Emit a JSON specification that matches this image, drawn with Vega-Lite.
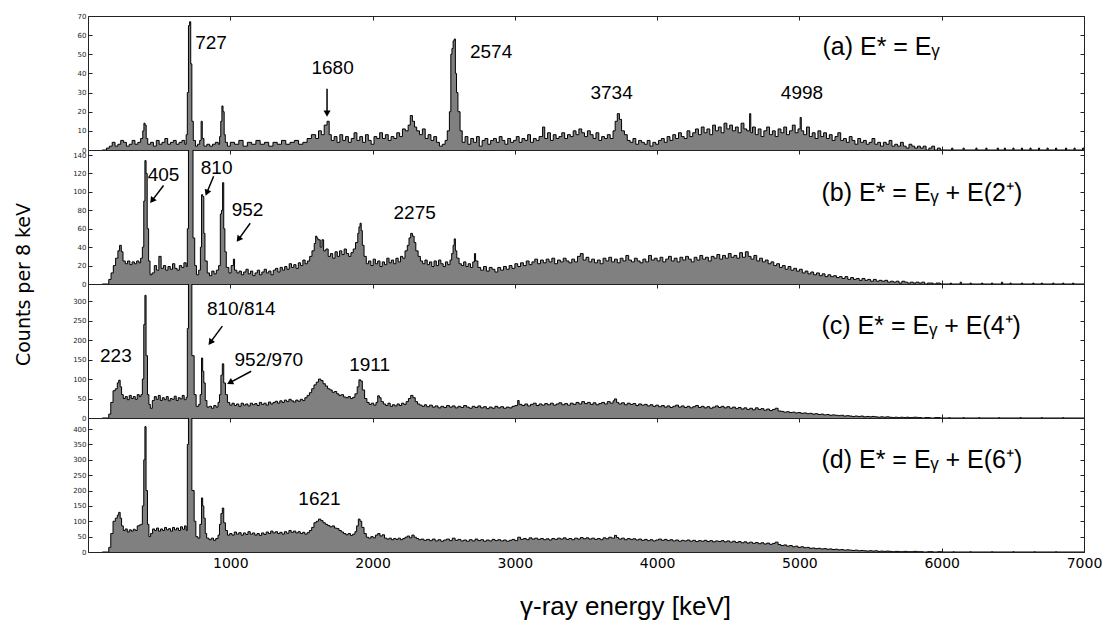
{
"$schema": "https://vega.github.io/schema/vega-lite/v6.json",
"padding": {"left": 13, "top": 11, "right": 0, "bottom": 0},
"background": "white",
"spacing": 0,
"bounds": "flush",
"datasets": {
"a": [{"e":100,"c":0},{"e":130,"c":1},{"e":150,"c":2},{"e":170,"c":4},{"e":190,"c":2},{"e":210,"c":3},{"e":230,"c":5},{"e":250,"c":4},{"e":270,"c":2},{"e":290,"c":3},{"e":310,"c":5},{"e":330,"c":3},{"e":350,"c":4},{"e":370,"c":6},{"e":385,"c":10},{"e":393,"c":14},{"e":401,"c":13},{"e":409,"c":6},{"e":420,"c":3},{"e":440,"c":4},{"e":460,"c":2},{"e":480,"c":5},{"e":500,"c":3},{"e":520,"c":4},{"e":540,"c":6},{"e":560,"c":3},{"e":580,"c":4},{"e":600,"c":5},{"e":620,"c":3},{"e":640,"c":4},{"e":660,"c":5},{"e":680,"c":3},{"e":690,"c":8},{"e":698,"c":30},{"e":706,"c":65},{"e":714,"c":67},{"e":722,"c":45},{"e":730,"c":15},{"e":740,"c":5},{"e":755,"c":2},{"e":770,"c":3},{"e":785,"c":5},{"e":795,"c":15},{"e":803,"c":6},{"e":815,"c":2},{"e":835,"c":3},{"e":855,"c":2},{"e":875,"c":3},{"e":895,"c":4},{"e":915,"c":3},{"e":925,"c":7},{"e":933,"c":15},{"e":941,"c":23},{"e":949,"c":20},{"e":957,"c":8},{"e":965,"c":4},{"e":980,"c":2},{"e":1000,"c":4},{"e":1030,"c":3},{"e":1060,"c":5},{"e":1090,"c":2},{"e":1120,"c":4},{"e":1150,"c":3},{"e":1180,"c":5},{"e":1210,"c":3},{"e":1240,"c":4},{"e":1270,"c":2},{"e":1300,"c":4},{"e":1330,"c":3},{"e":1360,"c":5},{"e":1390,"c":3},{"e":1420,"c":4},{"e":1450,"c":5},{"e":1480,"c":3},{"e":1510,"c":4},{"e":1540,"c":6},{"e":1570,"c":8},{"e":1600,"c":6},{"e":1620,"c":10},{"e":1640,"c":8},{"e":1660,"c":13},{"e":1680,"c":15},{"e":1695,"c":8},{"e":1710,"c":5},{"e":1730,"c":7},{"e":1750,"c":4},{"e":1770,"c":8},{"e":1790,"c":5},{"e":1810,"c":7},{"e":1830,"c":4},{"e":1850,"c":6},{"e":1870,"c":9},{"e":1890,"c":5},{"e":1910,"c":7},{"e":1930,"c":4},{"e":1950,"c":8},{"e":1970,"c":5},{"e":1990,"c":3},{"e":2010,"c":7},{"e":2030,"c":6},{"e":2050,"c":9},{"e":2070,"c":6},{"e":2090,"c":8},{"e":2110,"c":5},{"e":2130,"c":7},{"e":2150,"c":6},{"e":2170,"c":9},{"e":2190,"c":7},{"e":2210,"c":11},{"e":2230,"c":10},{"e":2250,"c":13},{"e":2265,"c":18},{"e":2280,"c":15},{"e":2295,"c":12},{"e":2310,"c":10},{"e":2330,"c":8},{"e":2350,"c":11},{"e":2370,"c":6},{"e":2390,"c":8},{"e":2410,"c":5},{"e":2430,"c":7},{"e":2450,"c":4},{"e":2470,"c":2},{"e":2490,"c":3},{"e":2510,"c":5},{"e":2525,"c":10},{"e":2540,"c":20},{"e":2550,"c":50},{"e":2558,"c":53},{"e":2566,"c":57},{"e":2574,"c":58},{"e":2582,"c":40},{"e":2590,"c":30},{"e":2600,"c":20},{"e":2615,"c":10},{"e":2630,"c":4},{"e":2650,"c":7},{"e":2670,"c":3},{"e":2690,"c":6},{"e":2710,"c":4},{"e":2730,"c":7},{"e":2750,"c":2},{"e":2770,"c":5},{"e":2790,"c":6},{"e":2810,"c":3},{"e":2830,"c":5},{"e":2850,"c":6},{"e":2870,"c":4},{"e":2890,"c":7},{"e":2910,"c":5},{"e":2930,"c":3},{"e":2950,"c":6},{"e":2970,"c":4},{"e":2990,"c":5},{"e":3010,"c":7},{"e":3030,"c":4},{"e":3050,"c":6},{"e":3070,"c":5},{"e":3090,"c":8},{"e":3110,"c":4},{"e":3130,"c":6},{"e":3150,"c":5},{"e":3170,"c":7},{"e":3195,"c":12},{"e":3210,"c":6},{"e":3230,"c":9},{"e":3250,"c":5},{"e":3270,"c":8},{"e":3290,"c":6},{"e":3310,"c":7},{"e":3330,"c":9},{"e":3350,"c":6},{"e":3370,"c":8},{"e":3390,"c":7},{"e":3410,"c":10},{"e":3430,"c":8},{"e":3450,"c":11},{"e":3470,"c":9},{"e":3490,"c":7},{"e":3510,"c":10},{"e":3530,"c":8},{"e":3550,"c":6},{"e":3570,"c":9},{"e":3590,"c":5},{"e":3610,"c":7},{"e":3630,"c":6},{"e":3650,"c":8},{"e":3670,"c":6},{"e":3690,"c":10},{"e":3705,"c":15},{"e":3720,"c":19},{"e":3735,"c":16},{"e":3750,"c":10},{"e":3770,"c":8},{"e":3790,"c":5},{"e":3810,"c":4},{"e":3830,"c":6},{"e":3850,"c":3},{"e":3870,"c":5},{"e":3890,"c":4},{"e":3910,"c":3},{"e":3930,"c":5},{"e":3950,"c":2},{"e":3970,"c":4},{"e":3990,"c":3},{"e":4010,"c":5},{"e":4030,"c":6},{"e":4050,"c":4},{"e":4070,"c":7},{"e":4090,"c":5},{"e":4110,"c":8},{"e":4130,"c":6},{"e":4150,"c":9},{"e":4170,"c":7},{"e":4190,"c":6},{"e":4210,"c":10},{"e":4230,"c":7},{"e":4250,"c":9},{"e":4270,"c":11},{"e":4290,"c":8},{"e":4310,"c":12},{"e":4330,"c":9},{"e":4350,"c":11},{"e":4370,"c":8},{"e":4390,"c":13},{"e":4410,"c":10},{"e":4430,"c":12},{"e":4450,"c":9},{"e":4470,"c":14},{"e":4490,"c":11},{"e":4510,"c":13},{"e":4530,"c":10},{"e":4550,"c":12},{"e":4570,"c":9},{"e":4590,"c":14},{"e":4610,"c":11},{"e":4630,"c":10},{"e":4650,"c":19},{"e":4658,"c":9},{"e":4670,"c":12},{"e":4690,"c":8},{"e":4710,"c":11},{"e":4730,"c":7},{"e":4750,"c":10},{"e":4770,"c":12},{"e":4790,"c":8},{"e":4810,"c":10},{"e":4830,"c":7},{"e":4850,"c":11},{"e":4870,"c":9},{"e":4890,"c":12},{"e":4910,"c":8},{"e":4930,"c":10},{"e":4950,"c":13},{"e":4970,"c":9},{"e":4990,"c":11},{"e":5005,"c":17},{"e":5013,"c":10},{"e":5030,"c":8},{"e":5050,"c":12},{"e":5070,"c":7},{"e":5090,"c":9},{"e":5110,"c":6},{"e":5130,"c":10},{"e":5150,"c":7},{"e":5170,"c":9},{"e":5190,"c":6},{"e":5210,"c":8},{"e":5230,"c":5},{"e":5250,"c":7},{"e":5270,"c":9},{"e":5290,"c":5},{"e":5310,"c":6},{"e":5330,"c":4},{"e":5350,"c":7},{"e":5370,"c":5},{"e":5390,"c":3},{"e":5410,"c":6},{"e":5430,"c":4},{"e":5450,"c":5},{"e":5470,"c":3},{"e":5490,"c":4},{"e":5510,"c":6},{"e":5530,"c":3},{"e":5550,"c":4},{"e":5570,"c":2},{"e":5590,"c":4},{"e":5610,"c":3},{"e":5630,"c":5},{"e":5650,"c":2},{"e":5670,"c":3},{"e":5690,"c":2},{"e":5710,"c":4},{"e":5730,"c":2},{"e":5750,"c":1},{"e":5770,"c":3},{"e":5790,"c":2},{"e":5810,"c":1},{"e":5830,"c":2},{"e":5850,"c":1},{"e":5870,"c":2},{"e":5890,"c":0},{"e":5910,"c":1},{"e":5930,"c":2},{"e":5950,"c":0},{"e":5970,"c":1},{"e":5990,"c":0},{"e":6070,"c":1},{"e":6078,"c":0},{"e":6150,"c":1},{"e":6158,"c":0},{"e":6240,"c":1},{"e":6248,"c":0},{"e":6310,"c":1},{"e":6318,"c":0},{"e":6390,"c":1},{"e":6398,"c":0},{"e":6440,"c":1},{"e":6448,"c":0},{"e":6500,"c":1},{"e":6508,"c":0},{"e":6560,"c":1},{"e":6568,"c":0},{"e":6620,"c":1},{"e":6628,"c":0},{"e":6680,"c":1},{"e":6688,"c":0},{"e":6740,"c":1},{"e":6748,"c":0},{"e":6800,"c":1},{"e":6808,"c":0},{"e":6870,"c":1},{"e":6878,"c":0},{"e":6930,"c":1},{"e":6938,"c":0},{"e":6990,"c":1},{"e":7000,"c":0}],
"b": [{"e":100,"c":0},{"e":138,"c":0},{"e":146,"c":5},{"e":162,"c":12},{"e":178,"c":20},{"e":194,"c":28},{"e":210,"c":36},{"e":222,"c":42},{"e":234,"c":35},{"e":246,"c":25},{"e":262,"c":22},{"e":278,"c":25},{"e":294,"c":21},{"e":310,"c":24},{"e":326,"c":22},{"e":342,"c":25},{"e":358,"c":23},{"e":370,"c":28},{"e":382,"c":40},{"e":392,"c":90},{"e":400,"c":134},{"e":408,"c":120},{"e":416,"c":60},{"e":426,"c":25},{"e":436,"c":10},{"e":450,"c":12},{"e":466,"c":20},{"e":482,"c":15},{"e":498,"c":30},{"e":514,"c":17},{"e":530,"c":20},{"e":546,"c":15},{"e":562,"c":19},{"e":578,"c":16},{"e":594,"c":22},{"e":610,"c":17},{"e":626,"c":15},{"e":642,"c":20},{"e":658,"c":18},{"e":674,"c":23},{"e":690,"c":19},{"e":698,"c":60},{"e":706,"c":400},{"e":738,"c":50},{"e":750,"c":20},{"e":762,"c":10},{"e":778,"c":15},{"e":790,"c":40},{"e":798,"c":97},{"e":806,"c":95},{"e":814,"c":55},{"e":822,"c":25},{"e":838,"c":12},{"e":854,"c":9},{"e":870,"c":14},{"e":886,"c":11},{"e":902,"c":15},{"e":918,"c":20},{"e":930,"c":76},{"e":938,"c":80},{"e":946,"c":110},{"e":954,"c":60},{"e":962,"c":35},{"e":972,"c":18},{"e":990,"c":12},{"e":1006,"c":20},{"e":1022,"c":27},{"e":1030,"c":15},{"e":1046,"c":12},{"e":1062,"c":14},{"e":1078,"c":10},{"e":1094,"c":13},{"e":1110,"c":16},{"e":1126,"c":11},{"e":1142,"c":14},{"e":1158,"c":9},{"e":1174,"c":12},{"e":1190,"c":15},{"e":1206,"c":10},{"e":1222,"c":13},{"e":1238,"c":16},{"e":1254,"c":12},{"e":1270,"c":14},{"e":1286,"c":10},{"e":1302,"c":15},{"e":1318,"c":17},{"e":1334,"c":13},{"e":1350,"c":18},{"e":1366,"c":15},{"e":1382,"c":19},{"e":1398,"c":16},{"e":1414,"c":22},{"e":1430,"c":18},{"e":1446,"c":21},{"e":1462,"c":17},{"e":1478,"c":23},{"e":1494,"c":20},{"e":1510,"c":26},{"e":1526,"c":22},{"e":1542,"c":25},{"e":1558,"c":30},{"e":1574,"c":36},{"e":1590,"c":44},{"e":1600,"c":52},{"e":1608,"c":50},{"e":1616,"c":48},{"e":1632,"c":40},{"e":1644,"c":48},{"e":1656,"c":36},{"e":1672,"c":38},{"e":1688,"c":30},{"e":1704,"c":33},{"e":1720,"c":28},{"e":1736,"c":35},{"e":1752,"c":30},{"e":1768,"c":36},{"e":1784,"c":32},{"e":1800,"c":38},{"e":1816,"c":33},{"e":1832,"c":30},{"e":1848,"c":34},{"e":1864,"c":38},{"e":1880,"c":45},{"e":1896,"c":55},{"e":1904,"c":62},{"e":1912,"c":66},{"e":1920,"c":58},{"e":1928,"c":42},{"e":1940,"c":30},{"e":1956,"c":22},{"e":1972,"c":25},{"e":1988,"c":20},{"e":2004,"c":27},{"e":2020,"c":22},{"e":2036,"c":25},{"e":2052,"c":19},{"e":2068,"c":24},{"e":2084,"c":21},{"e":2100,"c":28},{"e":2116,"c":23},{"e":2132,"c":26},{"e":2148,"c":22},{"e":2164,"c":28},{"e":2180,"c":24},{"e":2196,"c":30},{"e":2212,"c":28},{"e":2228,"c":36},{"e":2244,"c":42},{"e":2256,"c":50},{"e":2268,"c":55},{"e":2280,"c":52},{"e":2292,"c":45},{"e":2304,"c":36},{"e":2320,"c":30},{"e":2336,"c":25},{"e":2352,"c":22},{"e":2368,"c":26},{"e":2384,"c":21},{"e":2400,"c":24},{"e":2416,"c":19},{"e":2432,"c":25},{"e":2448,"c":20},{"e":2464,"c":26},{"e":2480,"c":22},{"e":2496,"c":19},{"e":2512,"c":24},{"e":2528,"c":21},{"e":2544,"c":26},{"e":2556,"c":33},{"e":2566,"c":42},{"e":2574,"c":49},{"e":2582,"c":36},{"e":2592,"c":28},{"e":2608,"c":22},{"e":2624,"c":20},{"e":2640,"c":24},{"e":2656,"c":19},{"e":2672,"c":22},{"e":2688,"c":18},{"e":2704,"c":24},{"e":2716,"c":33},{"e":2724,"c":25},{"e":2740,"c":18},{"e":2760,"c":15},{"e":2780,"c":19},{"e":2800,"c":14},{"e":2820,"c":18},{"e":2840,"c":16},{"e":2860,"c":13},{"e":2880,"c":18},{"e":2900,"c":15},{"e":2920,"c":19},{"e":2940,"c":16},{"e":2960,"c":20},{"e":2980,"c":17},{"e":3000,"c":22},{"e":3020,"c":19},{"e":3040,"c":23},{"e":3060,"c":20},{"e":3080,"c":25},{"e":3100,"c":21},{"e":3120,"c":24},{"e":3140,"c":27},{"e":3160,"c":22},{"e":3180,"c":26},{"e":3200,"c":23},{"e":3220,"c":27},{"e":3240,"c":24},{"e":3260,"c":28},{"e":3280,"c":22},{"e":3300,"c":26},{"e":3320,"c":24},{"e":3340,"c":28},{"e":3360,"c":25},{"e":3380,"c":23},{"e":3400,"c":27},{"e":3420,"c":24},{"e":3440,"c":30},{"e":3460,"c":33},{"e":3480,"c":26},{"e":3500,"c":29},{"e":3520,"c":24},{"e":3540,"c":27},{"e":3560,"c":23},{"e":3580,"c":26},{"e":3600,"c":22},{"e":3620,"c":28},{"e":3640,"c":25},{"e":3660,"c":29},{"e":3680,"c":24},{"e":3700,"c":27},{"e":3720,"c":23},{"e":3740,"c":28},{"e":3760,"c":25},{"e":3780,"c":31},{"e":3800,"c":26},{"e":3820,"c":24},{"e":3840,"c":28},{"e":3860,"c":25},{"e":3880,"c":23},{"e":3900,"c":27},{"e":3920,"c":24},{"e":3940,"c":31},{"e":3960,"c":26},{"e":3980,"c":28},{"e":4000,"c":25},{"e":4020,"c":29},{"e":4040,"c":24},{"e":4060,"c":27},{"e":4080,"c":30},{"e":4100,"c":25},{"e":4120,"c":28},{"e":4140,"c":24},{"e":4160,"c":29},{"e":4180,"c":26},{"e":4200,"c":30},{"e":4220,"c":27},{"e":4240,"c":24},{"e":4260,"c":29},{"e":4280,"c":26},{"e":4300,"c":31},{"e":4320,"c":27},{"e":4340,"c":29},{"e":4360,"c":25},{"e":4380,"c":30},{"e":4400,"c":28},{"e":4420,"c":32},{"e":4440,"c":27},{"e":4460,"c":31},{"e":4480,"c":28},{"e":4500,"c":33},{"e":4520,"c":29},{"e":4540,"c":31},{"e":4560,"c":28},{"e":4580,"c":34},{"e":4600,"c":29},{"e":4620,"c":35},{"e":4640,"c":30},{"e":4660,"c":27},{"e":4680,"c":31},{"e":4700,"c":25},{"e":4720,"c":28},{"e":4740,"c":24},{"e":4760,"c":26},{"e":4780,"c":22},{"e":4800,"c":24},{"e":4820,"c":20},{"e":4840,"c":22},{"e":4860,"c":18},{"e":4880,"c":20},{"e":4900,"c":16},{"e":4920,"c":19},{"e":4940,"c":15},{"e":4960,"c":17},{"e":4980,"c":14},{"e":5000,"c":16},{"e":5020,"c":12},{"e":5040,"c":14},{"e":5060,"c":11},{"e":5080,"c":13},{"e":5100,"c":10},{"e":5120,"c":12},{"e":5140,"c":9},{"e":5160,"c":11},{"e":5180,"c":8},{"e":5200,"c":10},{"e":5220,"c":8},{"e":5240,"c":9},{"e":5260,"c":7},{"e":5280,"c":8},{"e":5300,"c":6},{"e":5320,"c":8},{"e":5340,"c":5},{"e":5360,"c":7},{"e":5380,"c":5},{"e":5400,"c":6},{"e":5420,"c":4},{"e":5440,"c":6},{"e":5460,"c":4},{"e":5480,"c":5},{"e":5500,"c":3},{"e":5520,"c":5},{"e":5540,"c":3},{"e":5560,"c":4},{"e":5580,"c":3},{"e":5600,"c":4},{"e":5620,"c":2},{"e":5640,"c":3},{"e":5660,"c":2},{"e":5680,"c":3},{"e":5700,"c":1},{"e":5720,"c":3},{"e":5740,"c":2},{"e":5760,"c":1},{"e":5780,"c":2},{"e":5800,"c":1},{"e":5820,"c":2},{"e":5840,"c":1},{"e":5860,"c":2},{"e":5880,"c":0},{"e":5900,"c":1},{"e":5940,"c":0},{"e":5960,"c":1},{"e":5990,"c":0},{"e":6060,"c":1},{"e":6068,"c":0},{"e":6130,"c":2},{"e":6138,"c":0},{"e":6200,"c":1},{"e":6208,"c":0},{"e":6280,"c":1},{"e":6288,"c":0},{"e":6350,"c":1},{"e":6358,"c":0},{"e":6420,"c":2},{"e":6428,"c":0},{"e":6480,"c":1},{"e":6488,"c":0},{"e":6560,"c":1},{"e":6568,"c":0},{"e":6640,"c":1},{"e":6648,"c":0},{"e":6700,"c":1},{"e":6708,"c":0},{"e":6780,"c":1},{"e":6788,"c":0},{"e":6850,"c":1},{"e":6858,"c":0},{"e":6920,"c":1},{"e":6928,"c":0},{"e":7000,"c":0}],
"c": [{"e":100,"c":0},{"e":138,"c":0},{"e":146,"c":10},{"e":160,"c":40},{"e":176,"c":70},{"e":192,"c":75},{"e":206,"c":90},{"e":216,"c":97},{"e":226,"c":80},{"e":236,"c":60},{"e":248,"c":50},{"e":262,"c":55},{"e":276,"c":47},{"e":290,"c":58},{"e":304,"c":50},{"e":318,"c":55},{"e":332,"c":48},{"e":346,"c":60},{"e":360,"c":55},{"e":372,"c":60},{"e":382,"c":100},{"e":392,"c":240},{"e":400,"c":315},{"e":408,"c":160},{"e":418,"c":60},{"e":428,"c":35},{"e":438,"c":25},{"e":452,"c":45},{"e":466,"c":55},{"e":480,"c":48},{"e":494,"c":58},{"e":508,"c":45},{"e":522,"c":52},{"e":536,"c":47},{"e":550,"c":55},{"e":564,"c":44},{"e":578,"c":50},{"e":592,"c":48},{"e":606,"c":56},{"e":620,"c":45},{"e":634,"c":52},{"e":648,"c":49},{"e":662,"c":58},{"e":676,"c":47},{"e":690,"c":53},{"e":698,"c":230},{"e":706,"c":900},{"e":730,"c":160},{"e":746,"c":60},{"e":760,"c":30},{"e":778,"c":35},{"e":788,"c":60},{"e":798,"c":154},{"e":806,"c":120},{"e":814,"c":90},{"e":824,"c":45},{"e":836,"c":28},{"e":852,"c":30},{"e":868,"c":25},{"e":884,"c":32},{"e":900,"c":28},{"e":914,"c":40},{"e":924,"c":60},{"e":934,"c":110},{"e":944,"c":139},{"e":954,"c":90},{"e":966,"c":60},{"e":980,"c":40},{"e":996,"c":33},{"e":1012,"c":38},{"e":1028,"c":32},{"e":1044,"c":36},{"e":1060,"c":30},{"e":1076,"c":38},{"e":1092,"c":33},{"e":1108,"c":36},{"e":1124,"c":31},{"e":1140,"c":38},{"e":1156,"c":34},{"e":1172,"c":37},{"e":1188,"c":32},{"e":1204,"c":40},{"e":1220,"c":35},{"e":1236,"c":38},{"e":1252,"c":33},{"e":1268,"c":41},{"e":1284,"c":36},{"e":1300,"c":40},{"e":1316,"c":43},{"e":1332,"c":38},{"e":1348,"c":44},{"e":1364,"c":40},{"e":1380,"c":46},{"e":1396,"c":42},{"e":1412,"c":48},{"e":1428,"c":44},{"e":1444,"c":41},{"e":1460,"c":46},{"e":1476,"c":43},{"e":1492,"c":48},{"e":1508,"c":45},{"e":1524,"c":52},{"e":1540,"c":58},{"e":1556,"c":65},{"e":1572,"c":75},{"e":1588,"c":85},{"e":1604,"c":92},{"e":1620,"c":100},{"e":1636,"c":96},{"e":1652,"c":88},{"e":1668,"c":82},{"e":1684,"c":75},{"e":1700,"c":72},{"e":1716,"c":66},{"e":1732,"c":68},{"e":1748,"c":62},{"e":1764,"c":58},{"e":1780,"c":60},{"e":1796,"c":54},{"e":1812,"c":52},{"e":1828,"c":55},{"e":1844,"c":50},{"e":1860,"c":53},{"e":1876,"c":62},{"e":1892,"c":80},{"e":1904,"c":98},{"e":1916,"c":95},{"e":1928,"c":72},{"e":1944,"c":50},{"e":1960,"c":40},{"e":1976,"c":35},{"e":1992,"c":38},{"e":2008,"c":33},{"e":2024,"c":40},{"e":2036,"c":57},{"e":2048,"c":52},{"e":2060,"c":42},{"e":2076,"c":36},{"e":2092,"c":32},{"e":2108,"c":38},{"e":2124,"c":30},{"e":2140,"c":34},{"e":2156,"c":31},{"e":2172,"c":36},{"e":2188,"c":32},{"e":2204,"c":38},{"e":2220,"c":35},{"e":2236,"c":42},{"e":2252,"c":50},{"e":2268,"c":58},{"e":2284,"c":52},{"e":2300,"c":42},{"e":2316,"c":36},{"e":2332,"c":33},{"e":2348,"c":30},{"e":2364,"c":34},{"e":2380,"c":29},{"e":2400,"c":33},{"e":2420,"c":28},{"e":2440,"c":31},{"e":2460,"c":26},{"e":2480,"c":30},{"e":2500,"c":27},{"e":2520,"c":32},{"e":2540,"c":28},{"e":2560,"c":31},{"e":2580,"c":26},{"e":2600,"c":30},{"e":2620,"c":27},{"e":2640,"c":32},{"e":2660,"c":28},{"e":2680,"c":25},{"e":2700,"c":30},{"e":2720,"c":27},{"e":2740,"c":31},{"e":2760,"c":26},{"e":2780,"c":29},{"e":2800,"c":24},{"e":2820,"c":28},{"e":2840,"c":25},{"e":2860,"c":30},{"e":2880,"c":26},{"e":2900,"c":29},{"e":2920,"c":25},{"e":2940,"c":28},{"e":2960,"c":26},{"e":2980,"c":30},{"e":3000,"c":32},{"e":3020,"c":45},{"e":3030,"c":35},{"e":3050,"c":32},{"e":3070,"c":36},{"e":3090,"c":31},{"e":3110,"c":35},{"e":3130,"c":38},{"e":3150,"c":32},{"e":3170,"c":36},{"e":3190,"c":33},{"e":3210,"c":37},{"e":3230,"c":34},{"e":3250,"c":38},{"e":3270,"c":33},{"e":3290,"c":36},{"e":3310,"c":39},{"e":3330,"c":34},{"e":3350,"c":37},{"e":3370,"c":33},{"e":3390,"c":38},{"e":3410,"c":35},{"e":3430,"c":40},{"e":3450,"c":36},{"e":3470,"c":42},{"e":3490,"c":37},{"e":3510,"c":40},{"e":3530,"c":35},{"e":3550,"c":39},{"e":3570,"c":34},{"e":3590,"c":37},{"e":3610,"c":40},{"e":3630,"c":36},{"e":3650,"c":42},{"e":3670,"c":38},{"e":3690,"c":44},{"e":3700,"c":49},{"e":3715,"c":40},{"e":3730,"c":36},{"e":3750,"c":39},{"e":3770,"c":34},{"e":3790,"c":38},{"e":3810,"c":35},{"e":3830,"c":37},{"e":3850,"c":32},{"e":3870,"c":36},{"e":3890,"c":33},{"e":3910,"c":35},{"e":3930,"c":31},{"e":3950,"c":34},{"e":3970,"c":30},{"e":3990,"c":33},{"e":4010,"c":29},{"e":4030,"c":32},{"e":4050,"c":28},{"e":4070,"c":31},{"e":4090,"c":27},{"e":4110,"c":30},{"e":4130,"c":33},{"e":4150,"c":28},{"e":4170,"c":31},{"e":4190,"c":27},{"e":4210,"c":30},{"e":4230,"c":26},{"e":4250,"c":29},{"e":4270,"c":32},{"e":4290,"c":27},{"e":4310,"c":30},{"e":4330,"c":26},{"e":4350,"c":29},{"e":4370,"c":25},{"e":4390,"c":28},{"e":4410,"c":31},{"e":4430,"c":27},{"e":4450,"c":30},{"e":4470,"c":26},{"e":4490,"c":29},{"e":4510,"c":25},{"e":4530,"c":28},{"e":4550,"c":24},{"e":4570,"c":27},{"e":4590,"c":23},{"e":4610,"c":26},{"e":4630,"c":22},{"e":4650,"c":25},{"e":4670,"c":21},{"e":4690,"c":26},{"e":4710,"c":22},{"e":4730,"c":24},{"e":4750,"c":20},{"e":4770,"c":23},{"e":4790,"c":19},{"e":4810,"c":22},{"e":4830,"c":25},{"e":4850,"c":18},{"e":4870,"c":17},{"e":4890,"c":15},{"e":4910,"c":16},{"e":4930,"c":14},{"e":4950,"c":15},{"e":4970,"c":13},{"e":4990,"c":14},{"e":5010,"c":12},{"e":5030,"c":13},{"e":5050,"c":11},{"e":5070,"c":12},{"e":5090,"c":10},{"e":5110,"c":11},{"e":5130,"c":9},{"e":5150,"c":10},{"e":5170,"c":8},{"e":5190,"c":9},{"e":5210,"c":7},{"e":5230,"c":8},{"e":5250,"c":7},{"e":5270,"c":6},{"e":5290,"c":7},{"e":5310,"c":5},{"e":5330,"c":6},{"e":5350,"c":5},{"e":5370,"c":4},{"e":5390,"c":5},{"e":5410,"c":4},{"e":5430,"c":5},{"e":5450,"c":3},{"e":5470,"c":4},{"e":5490,"c":3},{"e":5510,"c":4},{"e":5530,"c":3},{"e":5550,"c":2},{"e":5570,"c":3},{"e":5590,"c":2},{"e":5610,"c":3},{"e":5630,"c":2},{"e":5650,"c":1},{"e":5670,"c":2},{"e":5690,"c":1},{"e":5710,"c":2},{"e":5730,"c":1},{"e":5750,"c":2},{"e":5770,"c":1},{"e":5800,"c":2},{"e":5830,"c":1},{"e":5860,"c":0},{"e":5880,"c":1},{"e":5920,"c":0},{"e":5950,"c":1},{"e":5990,"c":0},{"e":6050,"c":1},{"e":6058,"c":0},{"e":6150,"c":1},{"e":6158,"c":0},{"e":6260,"c":1},{"e":6268,"c":0},{"e":6400,"c":1},{"e":6408,"c":0},{"e":6550,"c":1},{"e":6558,"c":0},{"e":6700,"c":1},{"e":6708,"c":0},{"e":6850,"c":1},{"e":6858,"c":0},{"e":7000,"c":0}],
"d": [{"e":100,"c":0},{"e":138,"c":0},{"e":146,"c":15},{"e":160,"c":60},{"e":176,"c":100},{"e":192,"c":110},{"e":206,"c":120},{"e":216,"c":129},{"e":226,"c":110},{"e":236,"c":85},{"e":248,"c":70},{"e":262,"c":75},{"e":276,"c":65},{"e":290,"c":72},{"e":304,"c":68},{"e":318,"c":74},{"e":332,"c":70},{"e":346,"c":85},{"e":360,"c":88},{"e":372,"c":90},{"e":382,"c":150},{"e":392,"c":300},{"e":400,"c":408},{"e":408,"c":200},{"e":418,"c":90},{"e":428,"c":50},{"e":440,"c":60},{"e":454,"c":75},{"e":468,"c":70},{"e":482,"c":78},{"e":496,"c":68},{"e":510,"c":75},{"e":524,"c":70},{"e":538,"c":80},{"e":552,"c":72},{"e":566,"c":76},{"e":580,"c":68},{"e":594,"c":80},{"e":608,"c":72},{"e":622,"c":78},{"e":636,"c":70},{"e":650,"c":82},{"e":664,"c":74},{"e":678,"c":85},{"e":690,"c":70},{"e":698,"c":350},{"e":706,"c":900},{"e":730,"c":200},{"e":746,"c":100},{"e":758,"c":50},{"e":772,"c":45},{"e":786,"c":90},{"e":798,"c":176},{"e":806,"c":150},{"e":814,"c":110},{"e":824,"c":60},{"e":834,"c":45},{"e":850,"c":40},{"e":866,"c":45},{"e":882,"c":38},{"e":898,"c":44},{"e":914,"c":55},{"e":924,"c":90},{"e":934,"c":125},{"e":944,"c":143},{"e":954,"c":95},{"e":966,"c":70},{"e":980,"c":55},{"e":996,"c":60},{"e":1012,"c":55},{"e":1028,"c":65},{"e":1044,"c":58},{"e":1060,"c":63},{"e":1076,"c":55},{"e":1092,"c":62},{"e":1108,"c":57},{"e":1124,"c":66},{"e":1140,"c":58},{"e":1156,"c":62},{"e":1172,"c":55},{"e":1188,"c":60},{"e":1204,"c":54},{"e":1220,"c":62},{"e":1236,"c":57},{"e":1252,"c":65},{"e":1268,"c":60},{"e":1284,"c":68},{"e":1300,"c":62},{"e":1316,"c":66},{"e":1332,"c":60},{"e":1348,"c":64},{"e":1364,"c":58},{"e":1380,"c":66},{"e":1396,"c":61},{"e":1412,"c":70},{"e":1428,"c":64},{"e":1444,"c":68},{"e":1460,"c":62},{"e":1476,"c":66},{"e":1492,"c":60},{"e":1508,"c":64},{"e":1524,"c":58},{"e":1540,"c":63},{"e":1556,"c":70},{"e":1572,"c":80},{"e":1588,"c":95},{"e":1604,"c":100},{"e":1620,"c":107},{"e":1636,"c":102},{"e":1652,"c":95},{"e":1668,"c":90},{"e":1684,"c":86},{"e":1700,"c":82},{"e":1716,"c":85},{"e":1732,"c":78},{"e":1748,"c":76},{"e":1764,"c":70},{"e":1780,"c":65},{"e":1796,"c":60},{"e":1812,"c":56},{"e":1828,"c":60},{"e":1844,"c":54},{"e":1860,"c":58},{"e":1876,"c":66},{"e":1888,"c":85},{"e":1900,"c":107},{"e":1912,"c":100},{"e":1924,"c":80},{"e":1940,"c":60},{"e":1956,"c":48},{"e":1972,"c":45},{"e":1988,"c":50},{"e":2004,"c":46},{"e":2020,"c":55},{"e":2036,"c":60},{"e":2052,"c":52},{"e":2068,"c":56},{"e":2084,"c":45},{"e":2100,"c":42},{"e":2116,"c":45},{"e":2132,"c":40},{"e":2148,"c":44},{"e":2164,"c":41},{"e":2180,"c":45},{"e":2196,"c":40},{"e":2212,"c":44},{"e":2228,"c":48},{"e":2244,"c":52},{"e":2260,"c":46},{"e":2276,"c":55},{"e":2292,"c":48},{"e":2308,"c":44},{"e":2324,"c":40},{"e":2340,"c":42},{"e":2360,"c":38},{"e":2380,"c":41},{"e":2400,"c":37},{"e":2420,"c":42},{"e":2440,"c":36},{"e":2460,"c":40},{"e":2480,"c":35},{"e":2500,"c":39},{"e":2520,"c":42},{"e":2540,"c":37},{"e":2560,"c":45},{"e":2580,"c":38},{"e":2600,"c":41},{"e":2620,"c":36},{"e":2640,"c":39},{"e":2660,"c":35},{"e":2680,"c":40},{"e":2700,"c":36},{"e":2720,"c":42},{"e":2740,"c":37},{"e":2760,"c":40},{"e":2780,"c":35},{"e":2800,"c":39},{"e":2820,"c":36},{"e":2840,"c":41},{"e":2860,"c":37},{"e":2880,"c":40},{"e":2900,"c":36},{"e":2920,"c":39},{"e":2940,"c":35},{"e":2960,"c":38},{"e":2980,"c":41},{"e":3000,"c":37},{"e":3020,"c":48},{"e":3040,"c":41},{"e":3060,"c":44},{"e":3080,"c":40},{"e":3100,"c":46},{"e":3120,"c":42},{"e":3140,"c":45},{"e":3160,"c":41},{"e":3180,"c":44},{"e":3200,"c":40},{"e":3220,"c":43},{"e":3240,"c":39},{"e":3260,"c":44},{"e":3280,"c":41},{"e":3300,"c":45},{"e":3320,"c":42},{"e":3340,"c":46},{"e":3360,"c":41},{"e":3380,"c":44},{"e":3400,"c":40},{"e":3420,"c":45},{"e":3440,"c":42},{"e":3460,"c":47},{"e":3480,"c":43},{"e":3500,"c":46},{"e":3520,"c":42},{"e":3540,"c":45},{"e":3560,"c":41},{"e":3580,"c":44},{"e":3600,"c":40},{"e":3620,"c":46},{"e":3640,"c":43},{"e":3660,"c":48},{"e":3680,"c":45},{"e":3700,"c":54},{"e":3715,"c":47},{"e":3730,"c":42},{"e":3750,"c":45},{"e":3770,"c":40},{"e":3790,"c":44},{"e":3810,"c":41},{"e":3830,"c":43},{"e":3850,"c":39},{"e":3870,"c":42},{"e":3890,"c":38},{"e":3910,"c":41},{"e":3930,"c":37},{"e":3950,"c":40},{"e":3970,"c":36},{"e":3990,"c":39},{"e":4010,"c":42},{"e":4030,"c":38},{"e":4050,"c":41},{"e":4070,"c":37},{"e":4090,"c":40},{"e":4110,"c":36},{"e":4130,"c":39},{"e":4150,"c":35},{"e":4170,"c":38},{"e":4190,"c":36},{"e":4210,"c":39},{"e":4230,"c":35},{"e":4250,"c":38},{"e":4270,"c":34},{"e":4290,"c":37},{"e":4310,"c":35},{"e":4330,"c":38},{"e":4350,"c":34},{"e":4370,"c":37},{"e":4390,"c":33},{"e":4410,"c":36},{"e":4430,"c":34},{"e":4450,"c":37},{"e":4470,"c":33},{"e":4490,"c":36},{"e":4510,"c":32},{"e":4530,"c":35},{"e":4550,"c":31},{"e":4570,"c":34},{"e":4590,"c":30},{"e":4610,"c":33},{"e":4630,"c":29},{"e":4650,"c":32},{"e":4670,"c":28},{"e":4690,"c":31},{"e":4710,"c":27},{"e":4730,"c":30},{"e":4750,"c":26},{"e":4770,"c":29},{"e":4790,"c":25},{"e":4810,"c":28},{"e":4830,"c":32},{"e":4850,"c":24},{"e":4870,"c":21},{"e":4890,"c":23},{"e":4910,"c":19},{"e":4930,"c":21},{"e":4950,"c":17},{"e":4970,"c":19},{"e":4990,"c":15},{"e":5010,"c":17},{"e":5030,"c":14},{"e":5050,"c":15},{"e":5070,"c":12},{"e":5090,"c":13},{"e":5110,"c":11},{"e":5130,"c":12},{"e":5150,"c":10},{"e":5170,"c":11},{"e":5190,"c":9},{"e":5210,"c":10},{"e":5230,"c":8},{"e":5250,"c":9},{"e":5270,"c":7},{"e":5290,"c":8},{"e":5310,"c":6},{"e":5330,"c":7},{"e":5350,"c":6},{"e":5370,"c":5},{"e":5390,"c":6},{"e":5410,"c":4},{"e":5430,"c":5},{"e":5450,"c":4},{"e":5470,"c":3},{"e":5490,"c":4},{"e":5510,"c":3},{"e":5530,"c":4},{"e":5550,"c":2},{"e":5570,"c":3},{"e":5590,"c":2},{"e":5610,"c":3},{"e":5630,"c":2},{"e":5650,"c":1},{"e":5670,"c":2},{"e":5700,"c":1},{"e":5730,"c":2},{"e":5760,"c":1},{"e":5800,"c":2},{"e":5830,"c":1},{"e":5870,"c":0},{"e":5900,"c":1},{"e":5940,"c":0},{"e":5970,"c":1},{"e":6000,"c":0},{"e":6080,"c":1},{"e":6088,"c":0},{"e":6200,"c":1},{"e":6208,"c":0},{"e":6350,"c":1},{"e":6358,"c":0},{"e":6500,"c":1},{"e":6508,"c":0},{"e":6650,"c":1},{"e":6658,"c":0},{"e":6800,"c":1},{"e":6808,"c":0},{"e":7000,"c":0}],
"lab": [{"p":"a","e":865,"c":56,"t":"727"},{"p":"a","e":1719,"c":43,"t":"1680"},{"p":"a","e":2833,"c":51,"t":"2574"},{"p":"a","e":3680,"c":30,"t":"3734"},{"p":"a","e":5018,"c":30,"t":"4998"},{"p":"b","e":531,"c":118,"t":"405"},{"p":"b","e":904,"c":126,"t":"810"},{"p":"b","e":1121,"c":80,"t":"952"},{"p":"b","e":2296,"c":77,"t":"2275"},{"p":"c","e":196,"c":160,"t":"223"},{"p":"c","e":1077,"c":280,"t":"810/814"},{"p":"c","e":1271,"c":148,"t":"952/970"},{"p":"c","e":1979,"c":137,"t":"1911"},{"p":"d","e":1627,"c":172,"t":"1621"}],
"plab": [{"p":"a","e":5162,"c":54,"t":"(a) E* = Eᵧ"},{"p":"b","e":5155,"c":99,"t":"(b) E* = Eᵧ + E(2⁺)"},{"p":"c","e":5155,"c":235,"t":"(c) E* = Eᵧ + E(4⁺)"},{"p":"d","e":5155,"c":300,"t":"(d) E* = Eᵧ + E(6⁺)"}],
"arr": [{"p":"a","t":"1680","e":1680,"c":32,"e2":1680,"c2":19},{"p":"b","t":"405","e":531,"c":107,"e2":450,"c2":90.5},{"p":"b","t":"810","e":883,"c":117,"e2":835,"c2":99},{"p":"b","t":"952","e":1140,"c":66,"e2":1058,"c2":48.5},{"p":"c","t":"810/814","e":944,"c":236,"e2":860,"c2":194},{"p":"c","t":"952/970","e":1147,"c":120,"e2":997,"c2":91}]
},
"vconcat": [
{
"width": 996, "height": 134,
"resolve": {"axis": {"x": "independent", "y": "independent"}},
"layer": [
{"data": {"name": "a"}, "mark": {"type": "area", "interpolate": "step-after", "color": "#808080", "clip": true},
 "encoding": {
  "x": {"field": "e", "type": "quantitative", "scale": {"domain": [0, 7000], "nice": false}, "axis": {"orient": "bottom", "values": [1000,2000,3000,4000,5000,6000,7000], "labels": false, "tickSize": -4, "title": null}},
  "y": {"field": "c", "type": "quantitative", "scale": {"domain": [0, 70], "nice": false}, "axis": {"orient": "left", "values": [0,10,20,30,40,50,60,70], "tickSize": -4, "labelPadding": 6, "labelFontSize": 7, "title": null}}}},
{"data": {"name": "a"}, "mark": {"type": "line", "interpolate": "step-after", "color": "black", "strokeWidth": 1, "clip": true},
 "encoding": {
  "x": {"field": "e", "type": "quantitative", "axis": {"orient": "top", "values": [1000,2000,3000,4000,5000,6000,7000], "labels": false, "tickSize": -4, "title": null}},
  "y": {"field": "c", "type": "quantitative", "axis": {"orient": "right", "values": [0,10,20,30,40,50,60,70], "labels": false, "tickSize": -4, "title": null}}}},
{"data": {"name": "lab"}, "transform": [{"filter": "datum.p == 'a'"}], "mark": {"type": "text", "font": "Liberation Sans", "fontSize": 19, "baseline": "middle", "align": "center", "color": "black"},
 "encoding": {"x": {"field": "e", "type": "quantitative", "axis": null}, "y": {"field": "c", "type": "quantitative", "axis": null}, "text": {"field": "t"}}},
{"data": {"name": "plab"}, "transform": [{"filter": "datum.p == 'a'"}], "mark": {"type": "text", "font": "Liberation Sans", "fontSize": 25, "baseline": "middle", "align": "left", "color": "black"},
 "encoding": {"x": {"field": "e", "type": "quantitative", "axis": null}, "y": {"field": "c", "type": "quantitative", "axis": null}, "text": {"field": "t"}}},
{"data": {"name": "arr"}, "transform": [{"filter": "datum.p == 'a'"}], "mark": {"type": "rule", "color": "black", "strokeWidth": 1.5},
 "encoding": {"x": {"field": "e", "type": "quantitative", "axis": null}, "y": {"field": "c", "type": "quantitative", "axis": null}, "x2": {"field": "e2"}, "y2": {"field": "c2"}}},
{"data": {"name": "arr"}, "transform": [{"filter": "datum.p == 'a'"}], "mark": {"type": "point", "shape": "triangle-up", "filled": true, "color": "black", "opacity": 1, "size": 50, "angle": 180},
 "encoding": {"x": {"field": "e2", "type": "quantitative", "axis": null}, "y": {"field": "c2", "type": "quantitative", "axis": null}}}
]
},
{
"width": 996, "height": 134,
"resolve": {"axis": {"x": "independent", "y": "independent"}},
"layer": [
{"data": {"name": "b"}, "mark": {"type": "area", "interpolate": "step-after", "color": "#808080", "clip": true},
 "encoding": {
  "x": {"field": "e", "type": "quantitative", "scale": {"domain": [0, 7000], "nice": false}, "axis": {"orient": "bottom", "values": [1000,2000,3000,4000,5000,6000,7000], "labels": false, "tickSize": -4, "title": null}},
  "y": {"field": "c", "type": "quantitative", "scale": {"domain": [0, 145.5], "nice": false}, "axis": {"orient": "left", "values": [0,20,40,60,80,100,120,140], "tickSize": -4, "labelPadding": 6, "labelFontSize": 7, "title": "Counts per 8 keV", "titleFont": "DejaVu Sans", "titleFontSize": 19, "titleFontWeight": "normal", "titleColor": "black", "titleAngle": -90, "titleAlign": "center", "titleBaseline": "alphabetic", "titleX": -59, "titleY": 134}}}},
{"data": {"name": "b"}, "mark": {"type": "line", "interpolate": "step-after", "color": "black", "strokeWidth": 1, "clip": true},
 "encoding": {
  "x": {"field": "e", "type": "quantitative", "axis": {"orient": "top", "values": [1000,2000,3000,4000,5000,6000,7000], "labels": false, "tickSize": -4, "title": null}},
  "y": {"field": "c", "type": "quantitative", "axis": {"orient": "right", "values": [0,20,40,60,80,100,120,140], "labels": false, "tickSize": -4, "title": null}}}},
{"data": {"name": "lab"}, "transform": [{"filter": "datum.p == 'b'"}], "mark": {"type": "text", "font": "Liberation Sans", "fontSize": 19, "baseline": "middle", "align": "center", "color": "black"},
 "encoding": {"x": {"field": "e", "type": "quantitative", "axis": null}, "y": {"field": "c", "type": "quantitative", "axis": null}, "text": {"field": "t"}}},
{"data": {"name": "plab"}, "transform": [{"filter": "datum.p == 'b'"}], "mark": {"type": "text", "font": "Liberation Sans", "fontSize": 25, "baseline": "middle", "align": "left", "color": "black"},
 "encoding": {"x": {"field": "e", "type": "quantitative", "axis": null}, "y": {"field": "c", "type": "quantitative", "axis": null}, "text": {"field": "t"}}},
{"data": {"name": "arr"}, "transform": [{"filter": "datum.p == 'b'"}], "mark": {"type": "rule", "color": "black", "strokeWidth": 1.5},
 "encoding": {"x": {"field": "e", "type": "quantitative", "axis": null}, "y": {"field": "c", "type": "quantitative", "axis": null}, "x2": {"field": "e2"}, "y2": {"field": "c2"}}},
{"data": {"name": "arr"}, "transform": [{"filter": "datum.t == '405' || datum.t == '952'"}], "mark": {"type": "point", "shape": "triangle-up", "filled": true, "color": "black", "opacity": 1, "size": 50, "angle": 216.5},
 "encoding": {"x": {"field": "e2", "type": "quantitative", "axis": null}, "y": {"field": "c2", "type": "quantitative", "axis": null}}},
{"data": {"name": "arr"}, "transform": [{"filter": "datum.t == '810'"}], "mark": {"type": "point", "shape": "triangle-up", "filled": true, "color": "black", "opacity": 1, "size": 50, "angle": 202.6},
 "encoding": {"x": {"field": "e2", "type": "quantitative", "axis": null}, "y": {"field": "c2", "type": "quantitative", "axis": null}}}
]
},
{
"width": 996, "height": 134,
"resolve": {"axis": {"x": "independent", "y": "independent"}},
"layer": [
{"data": {"name": "c"}, "mark": {"type": "area", "interpolate": "step-after", "color": "#808080", "clip": true},
 "encoding": {
  "x": {"field": "e", "type": "quantitative", "scale": {"domain": [0, 7000], "nice": false}, "axis": {"orient": "bottom", "values": [1000,2000,3000,4000,5000,6000,7000], "labels": false, "tickSize": -4, "title": null}},
  "y": {"field": "c", "type": "quantitative", "scale": {"domain": [0, 344], "nice": false}, "axis": {"orient": "left", "values": [0,50,100,150,200,250,300], "tickSize": -4, "labelPadding": 6, "labelFontSize": 7, "title": null}}}},
{"data": {"name": "c"}, "mark": {"type": "line", "interpolate": "step-after", "color": "black", "strokeWidth": 1, "clip": true},
 "encoding": {
  "x": {"field": "e", "type": "quantitative", "axis": {"orient": "top", "values": [1000,2000,3000,4000,5000,6000,7000], "labels": false, "tickSize": -4, "title": null}},
  "y": {"field": "c", "type": "quantitative", "axis": {"orient": "right", "values": [0,50,100,150,200,250,300], "labels": false, "tickSize": -4, "title": null}}}},
{"data": {"name": "lab"}, "transform": [{"filter": "datum.p == 'c'"}], "mark": {"type": "text", "font": "Liberation Sans", "fontSize": 19, "baseline": "middle", "align": "center", "color": "black"},
 "encoding": {"x": {"field": "e", "type": "quantitative", "axis": null}, "y": {"field": "c", "type": "quantitative", "axis": null}, "text": {"field": "t"}}},
{"data": {"name": "plab"}, "transform": [{"filter": "datum.p == 'c'"}], "mark": {"type": "text", "font": "Liberation Sans", "fontSize": 25, "baseline": "middle", "align": "left", "color": "black"},
 "encoding": {"x": {"field": "e", "type": "quantitative", "axis": null}, "y": {"field": "c", "type": "quantitative", "axis": null}, "text": {"field": "t"}}},
{"data": {"name": "arr"}, "transform": [{"filter": "datum.p == 'c'"}], "mark": {"type": "rule", "color": "black", "strokeWidth": 1.5},
 "encoding": {"x": {"field": "e", "type": "quantitative", "axis": null}, "y": {"field": "c", "type": "quantitative", "axis": null}, "x2": {"field": "e2"}, "y2": {"field": "c2"}}},
{"data": {"name": "arr"}, "transform": [{"filter": "datum.t == '810/814'"}], "mark": {"type": "point", "shape": "triangle-up", "filled": true, "color": "black", "opacity": 1, "size": 50, "angle": 216.7},
 "encoding": {"x": {"field": "e2", "type": "quantitative", "axis": null}, "y": {"field": "c2", "type": "quantitative", "axis": null}}},
{"data": {"name": "arr"}, "transform": [{"filter": "datum.t == '952/970'"}], "mark": {"type": "point", "shape": "triangle-up", "filled": true, "color": "black", "opacity": 1, "size": 50, "angle": 242},
 "encoding": {"x": {"field": "e2", "type": "quantitative", "axis": null}, "y": {"field": "c2", "type": "quantitative", "axis": null}}}
]
},
{
"width": 996, "height": 134,
"resolve": {"axis": {"x": "independent", "y": "independent"}},
"layer": [
{"data": {"name": "d"}, "mark": {"type": "area", "interpolate": "step-after", "color": "#808080", "clip": true},
 "encoding": {
  "x": {"field": "e", "type": "quantitative", "scale": {"domain": [0, 7000], "nice": false}, "axis": {"orient": "bottom", "values": [1000,2000,3000,4000,5000,6000,7000], "format": "d", "tickSize": -4, "labelPadding": 8, "labelFontSize": 14, "labelFlush": false, "labelColor": "black", "title": "γ-ray energy [keV]", "titleFont": "Liberation Sans", "titleFontSize": 26, "titleFontWeight": "normal", "titleColor": "black", "titleAlign": "center", "titleBaseline": "alphabetic", "titleX": 537, "titleY": 62}},
  "y": {"field": "c", "type": "quantitative", "scale": {"domain": [0, 436], "nice": false}, "axis": {"orient": "left", "values": [0,50,100,150,200,250,300,350,400], "tickSize": -4, "labelPadding": 6, "labelFontSize": 7, "title": null}}}},
{"data": {"name": "d"}, "mark": {"type": "line", "interpolate": "step-after", "color": "black", "strokeWidth": 1, "clip": true},
 "encoding": {
  "x": {"field": "e", "type": "quantitative", "axis": {"orient": "top", "values": [1000,2000,3000,4000,5000,6000,7000], "labels": false, "tickSize": -4, "title": null}},
  "y": {"field": "c", "type": "quantitative", "axis": {"orient": "right", "values": [0,50,100,150,200,250,300,350,400], "labels": false, "tickSize": -4, "title": null}}}},
{"data": {"name": "lab"}, "transform": [{"filter": "datum.p == 'd'"}], "mark": {"type": "text", "font": "Liberation Sans", "fontSize": 19, "baseline": "middle", "align": "center", "color": "black"},
 "encoding": {"x": {"field": "e", "type": "quantitative", "axis": null}, "y": {"field": "c", "type": "quantitative", "axis": null}, "text": {"field": "t"}}},
{"data": {"name": "plab"}, "transform": [{"filter": "datum.p == 'd'"}], "mark": {"type": "text", "font": "Liberation Sans", "fontSize": 25, "baseline": "middle", "align": "left", "color": "black"},
 "encoding": {"x": {"field": "e", "type": "quantitative", "axis": null}, "y": {"field": "c", "type": "quantitative", "axis": null}, "text": {"field": "t"}}}
]
}
],
"config": {
 "view": {"stroke": "#222", "strokeWidth": 1},
 "axis": {"domain": false, "grid": false, "tickColor": "#222", "tickWidth": 1, "labelColor": "#222", "labelFont": "DejaVu Sans"}
}
}
